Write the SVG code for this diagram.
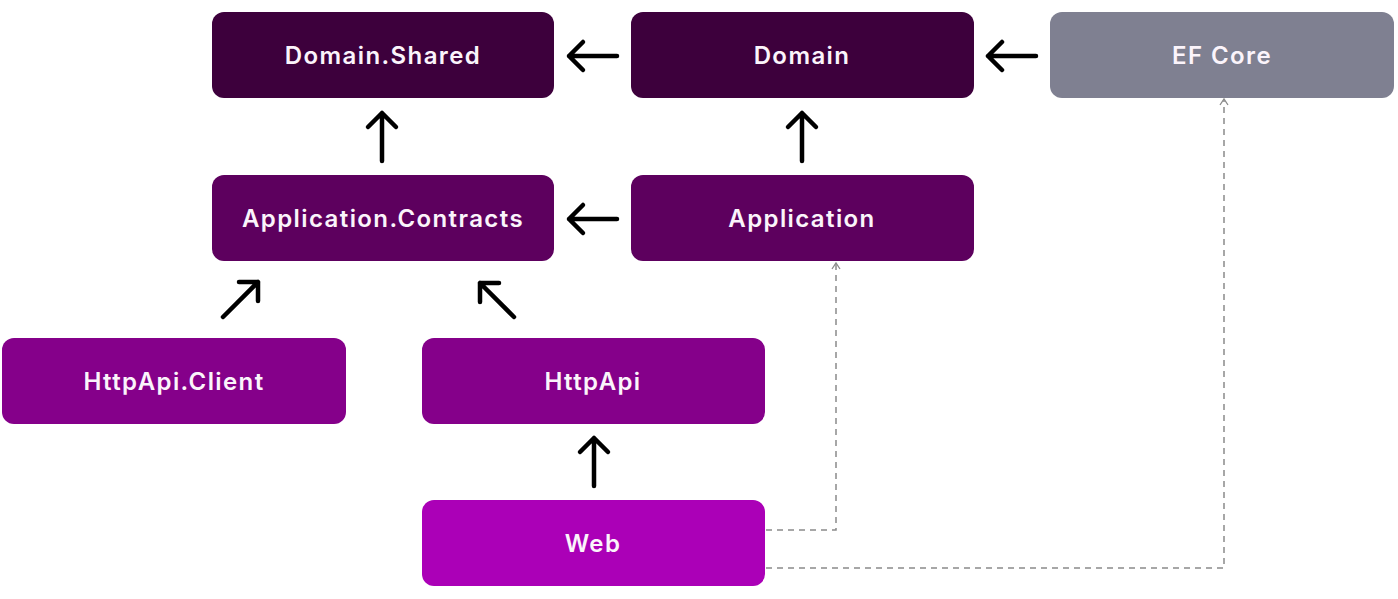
<svg xmlns="http://www.w3.org/2000/svg" width="1398" height="599" viewBox="0 0 1398 599">
<style>
.box{stroke:none}
.lbl{font-family:Inter,"Open Sans","Liberation Sans",sans-serif;font-weight:600;font-size:24px;letter-spacing:1.4px;fill:#fbf4fb;text-anchor:middle;dominant-baseline:central}
.arr{stroke:#000;stroke-width:4.5;fill:none;stroke-linecap:round;stroke-linejoin:round}
.dash{stroke:#8a8a8a;stroke-width:1.5;fill:none;stroke-dasharray:6 5}
.dhead{stroke:#8a8a8a;stroke-width:1.3;fill:none}
</style>
<rect width="1398" height="599" fill="#fff"/>
<g id="domain-shared"><rect class="box" x="212" y="12" width="342" height="86" rx="12" fill="#3d003c"/><text class="lbl" x="383" y="55">Domain.Shared</text></g>
<g id="domain"><rect class="box" x="631" y="12" width="343" height="86" rx="12" fill="#3d003c"/><text class="lbl" x="802" y="55">Domain</text></g>
<g id="ef-core"><rect class="box" x="1050" y="12" width="344" height="86" rx="12" fill="#7f8091"/><text class="lbl" x="1222" y="55">EF Core</text></g>
<g id="app-contracts"><rect class="box" x="212" y="175" width="342" height="86" rx="12" fill="#5d005e"/><text class="lbl" x="383" y="218">Application.Contracts</text></g>
<g id="application"><rect class="box" x="631" y="175" width="343" height="86" rx="12" fill="#5d005e"/><text class="lbl" x="802" y="218">Application</text></g>
<g id="httpapi-client"><rect class="box" x="2" y="338" width="344" height="86" rx="12" fill="#85008a"/><text class="lbl" x="174" y="381">HttpApi.Client</text></g>
<g id="httpapi"><rect class="box" x="422" y="338" width="343" height="86" rx="12" fill="#85008a"/><text class="lbl" x="593" y="381">HttpApi</text></g>
<g id="web"><rect class="box" x="422" y="500" width="343" height="86" rx="12" fill="#ab00b7"/><text class="lbl" x="593" y="543">Web</text></g>
<g id="connectors">
<path class="arr" d="M617 56H569M583 42L569 56L583 70"/>
<path class="arr" d="M1036 56H988M1002 42L988 56L1002 70"/>
<path class="arr" d="M617 219H569M583 205L569 219L583 233"/>
<path class="arr" d="M382 161V113M368 127L382 113L396 127"/>
<path class="arr" d="M802 161V113M788 127L802 113L816 127"/>
<path class="arr" d="M594 486V438M580 452L594 438L608 452"/>
<path class="arr" d="M223 317L258 282M239 282H258V301"/>
<path class="arr" d="M514 317L480 283M480 302V283H499"/>
<path class="dash" d="M766 530H836V264"/>
<path class="dhead" d="M832 269L836 263L840 269"/>
<path class="dash" d="M766 568H1224V100"/>
<path class="dhead" d="M1220 105L1224 99L1228 105"/>
</g>
</svg>
